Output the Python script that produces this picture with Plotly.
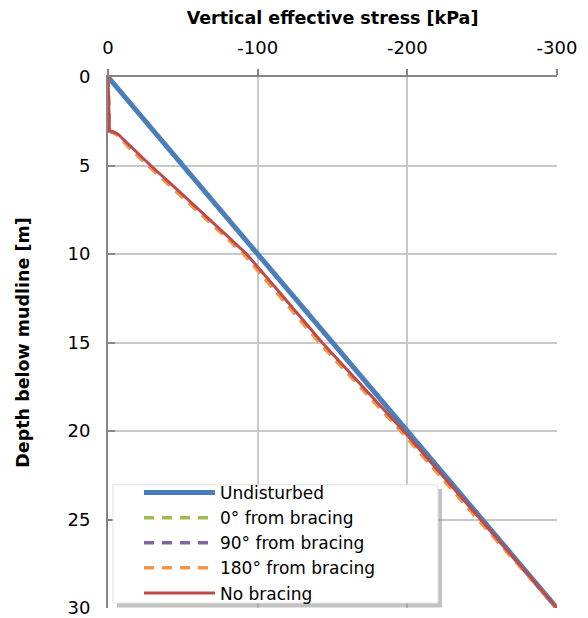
import plotly.graph_objects as go

# ---- data ----
undisturbed_depth = [0, 30]
undisturbed_stress = [0, -300]

depth = [0, 3.0, 3.05, 3.12, 3.25, 3.5, 4, 5, 6, 7, 8, 9, 10, 12, 15, 20, 25, 30]
no_bracing = [0, -0.5, -1, -4, -7, -10, -16, -28.5, -41.5, -54.5, -67, -80, -92.5, -113, -143, -197.5, -249, -300]
deg0 = [0, -0.4, -0.8, -3, -6, -9, -14.5, -27, -40, -53, -65.5, -78.5, -91, -111.5, -141.5, -196, -247.5, -300]
deg90 = [0, -0.4, -0.8, -3.2, -6.2, -9.2, -14.8, -27.2, -40.2, -53.2, -65.8, -78.7, -91.2, -111.7, -141.7, -196.2, -247.8, -300]
deg180 = [0, -0.4, -0.7, -2.8, -5.8, -8.8, -14.2, -26.7, -39.7, -52.7, -65.2, -78.2, -90.7, -111.2, -141.2, -195.7, -247.3, -300]

x_tickvals = [0, -100, -200, -300]
x_ticktext = ["0", "-100", "-200", "-300"]
y_tickvals = [0, 5, 10, 15, 20, 25, 30]

FONT = "DejaVu Sans"

fig = go.Figure()
fig.add_trace(go.Scatter(x=undisturbed_stress, y=undisturbed_depth, mode="lines",
                         name="Undisturbed", line=dict(color="#4A7EBB", width=5)))
fig.add_trace(go.Scatter(x=deg0, y=depth, mode="lines", name="0° from bracing",
                         line=dict(color="#9BBB59", width=3.5, dash="10px,8px")))
fig.add_trace(go.Scatter(x=deg90, y=depth, mode="lines", name="90° from bracing",
                         line=dict(color="#8064A2", width=3.5, dash="10px,8px")))
fig.add_trace(go.Scatter(x=deg180, y=depth, mode="lines", name="180° from bracing",
                         line=dict(color="#F79646", width=3.5, dash="10px,8px")))
fig.add_trace(go.Scatter(x=no_bracing, y=depth, mode="lines", name="No bracing",
                         line=dict(color="#BE4B48", width=3)))

# legend frame with a soft shadow (paper coordinates)
fig.add_shape(type="rect", xref="paper", yref="paper", x0=0.020, x1=0.744, y0=0.001, y1=0.224,
              line=dict(width=0), fillcolor="rgba(120,120,120,0.45)", layer="above")
fig.add_shape(type="rect", xref="paper", yref="paper", x0=0.011, x1=0.735, y0=0.0094, y1=0.232,
              line=dict(width=1, color="#e0e0e0"), fillcolor="white", layer="above")

fig.update_layout(
    width=580, height=610,
    margin=dict(l=100, r=31, t=69, b=10, autoexpand=False),
    paper_bgcolor="white", plot_bgcolor="white",
    font=dict(family=FONT, size=17, color="#000000"),
    showlegend=True,
    legend=dict(
        x=0.069, y=0.2505, xanchor="left", yanchor="top",
        bgcolor="rgba(0,0,0,0)", borderwidth=0,
        font=dict(family=FONT, size=17, color="#000000"),
        itemwidth=71, tracegroupgap=0,
    ),
    xaxis=dict(
        side="top", range=[0, -300], tickvals=x_tickvals, ticktext=x_ticktext,
        showline=True, linecolor="#868686", linewidth=2, mirror=False,
        ticks="outside", ticklen=6, tickcolor="#868686", tickwidth=1.5,
        showgrid=True, gridcolor="#c8c8c8", gridwidth=1.5, zeroline=False,
        ticklabelstandoff=8, automargin=False, ticklabeloverflow="allow",
        title=dict(text="<b>Vertical effective stress [kPa]</b>", font=dict(size=17.5), standoff=8),
        tickfont=dict(size=18),
    ),
    yaxis=dict(
        range=[30, 0], tickvals=y_tickvals,
        showline=True, linecolor="#868686", linewidth=2,
        ticks="inside", ticklen=7, tickcolor="#868686", tickwidth=1.5,
        showgrid=True, gridcolor="#c8c8c8", gridwidth=1.5, zeroline=False,
        ticklabelstandoff=12, automargin=False, ticklabeloverflow="allow",
        title=dict(text="<b>Depth below mudline [m]</b>", font=dict(size=17.5), standoff=33),
        tickfont=dict(size=18),
    ),
)

fig.write_html("out.html")
